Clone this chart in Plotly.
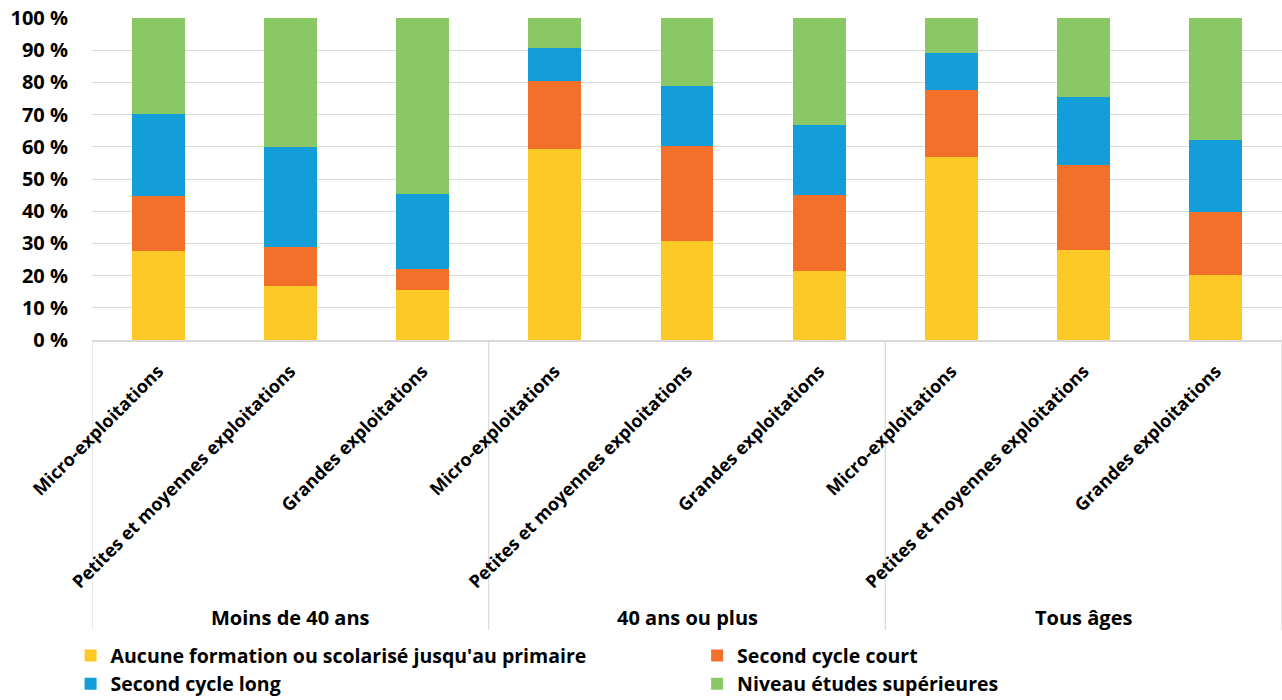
import plotly.graph_objects as go

groups = ["Moins de 40 ans", "40 ans ou plus", "Tous âges"]
sizes = ["Micro-exploitations", "Petites et moyennes exploitations", "Grandes exploitations"]
categories = [s for g in groups for s in sizes]

series_names = [
    "Aucune formation ou scolarisé jusqu'au primaire",
    "Second cycle court",
    "Second cycle long",
    "Niveau études supérieures",
]
aucune = [27.6, 16.7, 15.6, 59.4, 30.6, 21.3, 56.7, 28.0, 20.2]
court = [17.0, 12.2, 6.5, 21.1, 29.8, 23.6, 20.8, 26.5, 19.7]
long_ = [25.6, 31.1, 23.2, 10.2, 18.6, 21.8, 11.5, 21.0, 22.3]
sup = [29.8, 40.0, 54.7, 9.3, 21.0, 33.3, 11.0, 24.5, 37.8]
series_values = [aucune, court, long_, sup]
colors = ["#FDC926", "#F3702B", "#139DD9", "#8AC865"]
legend_ids = ["legend", "legend2", "legend", "legend2"]

FONT = "Open Sans"
xpos = list(range(len(categories)))

fig = go.Figure()
for name, vals, col, lg in zip(series_names, series_values, colors, legend_ids):
    fig.add_trace(go.Bar(
        x=xpos, y=vals, name=name, marker=dict(color=col, line=dict(width=0)),
        width=0.4, legend=lg,
    ))

legend_font = dict(family=FONT, size=19.5, color="#000000", weight="bold")
fig.update_layout(
    barmode="stack",
    width=1282, height=700,
    margin=dict(l=92, r=0, t=18, b=360, autoexpand=False),
    plot_bgcolor="white", paper_bgcolor="white",
    font=dict(family=FONT, color="#000000"),
    showlegend=True,
    legend=dict(
        orientation="v", x=-0.018, y=-0.92, xanchor="left", yanchor="top",
        font=legend_font, traceorder="normal", bgcolor="rgba(0,0,0,0)",
    ),
    legend2=dict(
        orientation="v", x=0.5085, y=-0.92, xanchor="left", yanchor="top",
        font=legend_font, traceorder="normal", bgcolor="rgba(0,0,0,0)",
    ),
)
fig.update_yaxes(
    range=[0, 100], dtick=10, ticksuffix=" %",
    showgrid=True, gridcolor="#D9D9D9", gridwidth=1.3,
    zeroline=False, showline=False, automargin=False,
    tickfont=dict(family=FONT, size=20, color="#000000", weight="bold"),
    ticks="", ticklabelstandoff=23,
)
fig.update_xaxes(
    range=[-0.5, len(categories) - 0.5],
    tickmode="array", tickvals=xpos, ticktext=categories,
    tickangle=-45, ticks="", automargin=False,
    tickfont=dict(family=FONT, size=18, color="#000000", weight="bold"),
    showline=True, linecolor="#D9D9D9", linewidth=1.5,
    showgrid=False, zeroline=False, ticklabelstandoff=12,
)

# group dividers and labels
n = len(sizes)
for i in range(len(groups) + 1):
    xb = i * n - 0.5
    fig.add_shape(type="line", xref="x", yref="paper", x0=xb, x1=xb, y0=0, y1=-0.90,
                  layer="below", line=dict(color="#D9D9D9", width=1.2))
for i, g in enumerate(groups):
    fig.add_annotation(x=i * n + (n - 1) / 2, y=-0.862, xref="x", yref="paper",
                       text=g, showarrow=False, yanchor="middle",
                       font=dict(family=FONT, size=20, color="#000000", weight="bold"))

fig.write_html("out.html", config={"displayModeBar": False},
               post_script="document.body.style.margin='0px';")
